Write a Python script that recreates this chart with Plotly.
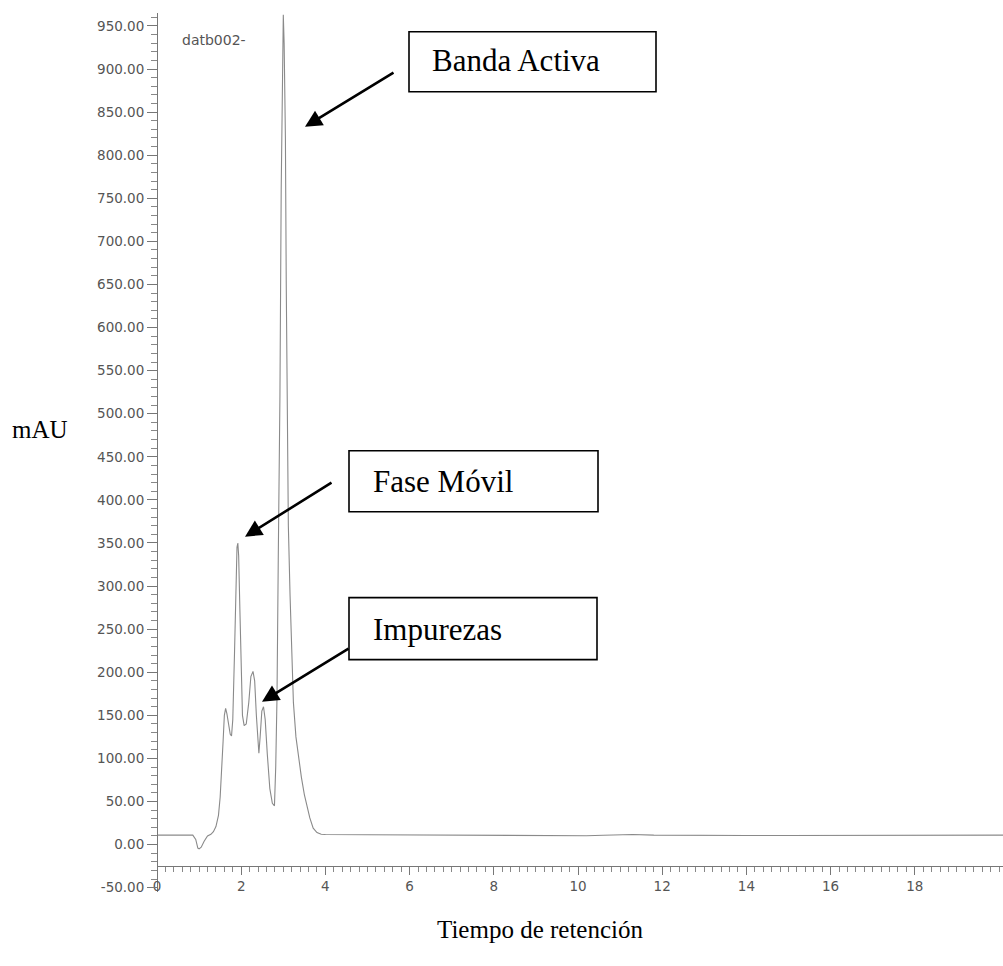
import plotly.graph_objects as go

# Chromatogram trace: retention time (min) and absorbance (mAU)
tiempo = [
    0.00, 0.50, 0.85, 0.92, 0.97, 1.00, 1.05, 1.12, 1.20, 1.28, 1.34, 1.40,
    1.46, 1.50, 1.54, 1.57, 1.60, 1.63, 1.66, 1.70, 1.74, 1.77, 1.80, 1.84,
    1.87, 1.90, 1.92, 1.94, 1.97, 2.00, 2.03, 2.07, 2.12, 2.18, 2.23, 2.28,
    2.32, 2.36, 2.40, 2.42, 2.45, 2.49, 2.53, 2.57, 2.62, 2.68, 2.74, 2.79,
    2.82, 2.85, 2.88, 2.92, 2.95, 2.97, 3.00, 3.02, 3.05, 3.07, 3.09, 3.12,
    3.16, 3.20, 3.24, 3.30, 3.36, 3.43, 3.50, 3.57, 3.63, 3.71, 3.80, 3.90,
    4.00, 5.00, 6.00, 7.00, 8.00, 9.00, 9.80, 10.20, 10.60, 11.30, 11.80,
    12.50, 13.00, 14.00, 15.00, 16.00, 17.00, 18.00, 19.00, 20.10,
]
mau = [
    11, 11, 11, 6, -4, -5, -3, 4, 10, 12, 15, 21,
    34, 55, 85, 120, 150, 158, 152, 140, 128, 126, 145, 220,
    300, 345, 350, 335, 270, 190, 150, 138, 140, 165, 195, 201,
    190, 150, 110, 106, 125, 155, 160, 145, 105, 65, 48, 45,
    90, 170, 330, 520, 760, 880, 963, 930, 820, 650, 480, 370,
    290, 220, 165, 125, 100, 78, 58, 42, 31, 19, 14, 12,
    11.8, 11.5, 11.3, 11.2, 11.0, 10.8, 10.0, 10.2, 10.8, 11.8, 11.0,
    10.6, 10.8, 10.6, 10.6, 10.8, 11.0, 11.0, 11.0, 11.0,
]

x_ticks = [0, 2, 4, 6, 8, 10, 12, 14, 16, 18]
y_ticks = [-50, 0, 50, 100, 150, 200, 250, 300, 350, 400, 450, 500,
           550, 600, 650, 700, 750, 800, 850, 900, 950]

# Callout labels
etiquetas = ["Banda Activa", "Fase Móvil", "Impurezas"]

W_PAGE, H_PAGE = 1003, 966
L, T = 157, 13.2
PW, PH = 846, 879.2


def px(x):
    return (x - L) / PW


def py(y):
    return (T + PH - y) / PH


fig = go.Figure()
fig.add_trace(go.Scatter(
    x=tiempo, y=mau, mode="lines",
    line=dict(color="#8a8a8a", width=1.1),
    hoverinfo="skip", showlegend=False,
))

tick_font = dict(family="DejaVu Sans", size=13.5, color="#555555")

fig.update_layout(
    width=W_PAGE, height=H_PAGE,
    margin=dict(l=L, r=W_PAGE - L - PW, t=T, b=H_PAGE - T - PH),
    paper_bgcolor="white", plot_bgcolor="white",
    xaxis=dict(
        range=[0, 20.095], anchor="free", position=0.030,
        showgrid=False, zeroline=False,
        showline=True, linecolor="#777777", linewidth=1,
        tickmode="array", tickvals=x_ticks, ticktext=[str(v) for v in x_ticks],
        ticks="outside", ticklen=8, tickcolor="#777777",
        minor=dict(dtick=0.2, ticks="outside", ticklen=5, tickcolor="#888888"),
        tickfont=tick_font,
    ),
    yaxis=dict(
        range=[-55, 965], anchor="free", position=0,
        showgrid=False, zeroline=False,
        showline=True, linecolor="#777777", linewidth=1,
        tickmode="array", tickvals=y_ticks,
        ticktext=["%.2f" % v for v in y_ticks],
        ticks="outside", ticklen=10, tickcolor="#777777",
        minor=dict(dtick=10, tick0=0, ticks="outside", ticklen=6, tickcolor="#888888"),
        tickfont=tick_font,
    ),
)

serif = "Liberation Serif, Times New Roman, serif"

# Box corners, text anchor, arrow tail and arrow head, in page pixels
cajas = [
    (409, 32, 656, 92, 430, 61),
    (349, 451, 598, 512, 371, 482),
    (349, 598, 597, 660, 371, 630),
]
flechas = [
    (395, 72, 305, 127),
    (333, 482, 245, 537),
    (350, 648, 262, 702),
]

for texto, (x0, y0, x1, y1, tx, ty), (ax, ay, hx, hy) in zip(etiquetas, cajas, flechas):
    fig.add_shape(type="rect", xref="paper", yref="paper",
                  x0=px(x0), x1=px(x1), y0=py(y1), y1=py(y0),
                  line=dict(color="black", width=1.6), fillcolor="white")
    fig.add_annotation(xref="paper", yref="paper", x=px(tx), y=py(ty),
                       xanchor="left", yanchor="middle", showarrow=False,
                       text=texto, font=dict(family=serif, size=31, color="black"))
    fig.add_annotation(xref="paper", yref="paper", x=px(hx), y=py(hy),
                       ax=ax - hx, ay=ay - hy, text="", showarrow=True,
                       arrowhead=2, arrowsize=1.3, arrowwidth=2.6,
                       arrowcolor="black")

fig.add_annotation(xref="paper", yref="paper", x=px(180), y=py(40),
                   xanchor="left", yanchor="middle", showarrow=False,
                   text="datb002-", font=dict(family="DejaVu Sans", size=14, color="#555555"))
fig.add_annotation(xref="paper", yref="paper", x=px(10), y=py(430),
                   xanchor="left", yanchor="middle", showarrow=False,
                   text="mAU", font=dict(family=serif, size=25, color="black"))
fig.add_annotation(xref="paper", yref="paper", x=px(540), y=py(930),
                   xanchor="center", yanchor="middle", showarrow=False,
                   text="Tiempo de retención", font=dict(family=serif, size=25, color="black"))

fig.write_html("out.html")
